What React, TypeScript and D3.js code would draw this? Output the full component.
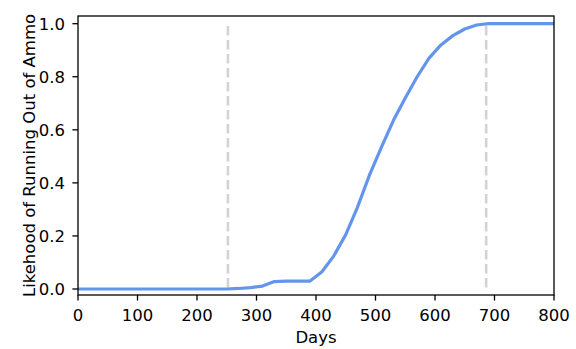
import React from "react";
import * as d3 from "d3";

// Probability curve sampled at these days
const days = [0, 50, 100, 150, 200, 250, 270, 290, 310, 330, 350, 370, 390, 410, 430, 450, 470, 490, 510, 530, 550, 570, 590, 610, 630, 650, 670, 690, 720, 760, 800];
const likelihood = [0, 0, 0, 0, 0, 0, 0.002, 0.005, 0.011, 0.028, 0.03, 0.03, 0.03, 0.065, 0.125, 0.205, 0.31, 0.43, 0.535, 0.635, 0.72, 0.8, 0.87, 0.92, 0.955, 0.98, 0.995, 1.0, 1.0, 1.0, 1.0];

// Marker days drawn as dashed vertical lines
const markerDays = [252, 686];

const xTicks = [0, 100, 200, 300, 400, 500, 600, 700, 800];
const yTicks = [0.0, 0.2, 0.4, 0.6, 0.8, 1.0];

const W = 576;
const H = 349;
const left = 78;
const right = 554;
const top = 16;
const bottom = 295;

const FONT = "'DejaVu Sans', sans-serif";
const FS = 16.5;

export default function App() {
  const x = d3.scaleLinear().domain([0, 800]).range([left, right]);
  const y = d3.scaleLinear().domain([-0.0226, 1.029]).range([bottom, top]);

  const line = d3
    .line<number>()
    .x((_, i) => x(days[i]))
    .y((v) => y(v));

  return (
    <div style={{ position: "absolute", left: 0, top: 0 }}>
      <svg width={W} height={H} style={{ display: "block", background: "#fff" }}>
        {markerDays.map((d) => (
          <line
            key={d}
            x1={x(d)}
            x2={x(d)}
            y1={y(1) + 2.3}
            y2={y(0) + 3}
            stroke="#d3d3d3"
            strokeWidth={2.6}
            strokeDasharray="9.5 4.5"
          />
        ))}
        <path
          d={line(likelihood) ?? ""}
          fill="none"
          stroke="#6495ed"
          strokeWidth={3.2}
          strokeLinejoin="round"
          strokeLinecap="butt"
        />
        <rect
          x={left}
          y={top}
          width={right - left}
          height={bottom - top}
          fill="none"
          stroke="#000"
          strokeWidth={1.3}
        />
        {xTicks.map((t) => (
          <g key={t}>
            <line x1={x(t)} x2={x(t)} y1={bottom} y2={bottom + 5.6} stroke="#000" strokeWidth={1.3} />
            <text
              x={x(t)}
              y={320.7}
              textAnchor="middle"
              fontFamily={FONT}
              fontSize={FS}
              fill="#000"
            >
              {t}
            </text>
          </g>
        ))}
        {yTicks.map((t) => (
          <g key={t}>
            <line x1={left - 5.6} x2={left} y1={y(t)} y2={y(t)} stroke="#000" strokeWidth={1.3} />
            <text
              x={left - 13}
              y={y(t)}
              dy="0.36em"
              textAnchor="end"
              fontFamily={FONT}
              fontSize={FS}
              fill="#000"
            >
              {t.toFixed(1)}
            </text>
          </g>
        ))}
        <text
          x={(left + right) / 2}
          y={343}
          textAnchor="middle"
          fontFamily={FONT}
          fontSize={FS}
          fill="#000"
        >
          Days
        </text>
        <text
          transform={`translate(35, ${(top + bottom) / 2}) rotate(-90)`}
          textAnchor="middle"
          fontFamily={FONT}
          fontSize={FS}
          fill="#000"
        >
          Likehood of Running Out of Ammo
        </text>
      </svg>
    </div>
  );
}
